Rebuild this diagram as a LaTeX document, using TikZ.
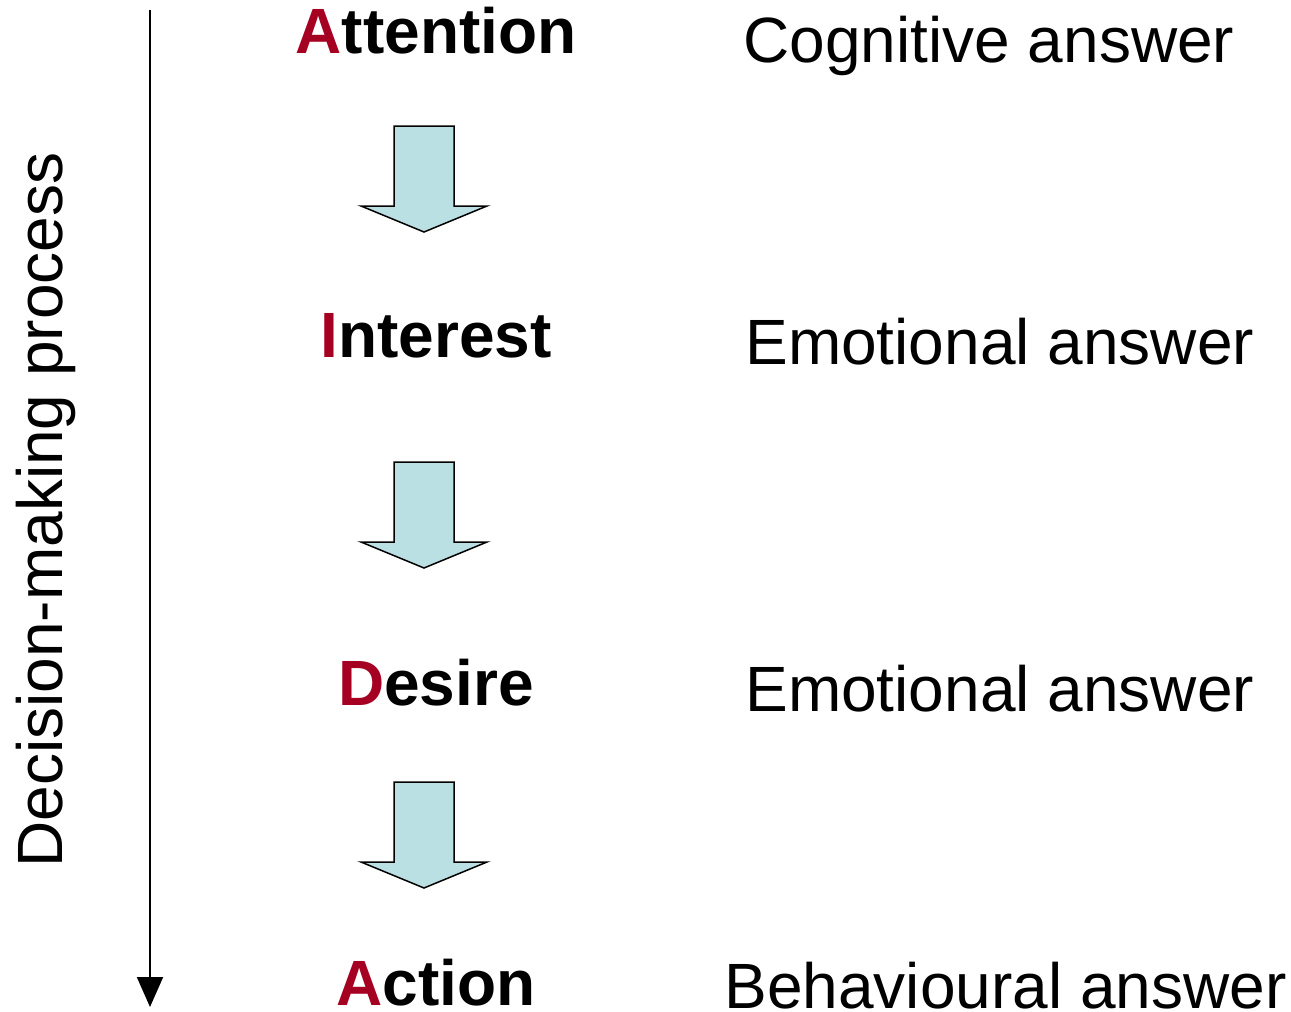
\documentclass[tikz,border=0pt]{standalone}
\usepackage{fontspec}
\setmainfont{Liberation Sans}
\usepackage{xcolor}
\usetikzlibrary{arrows.meta}
\definecolor{aidared}{HTML}{A50021}
\definecolor{arrowblue}{HTML}{BBE0E3}
\tikzset{>=latex}

\begin{document}
\begin{tikzpicture}[x=0.5pt, y=-0.5pt,
    stage/.style={anchor=base, inner sep=0pt, font=\fontsize{32}{38}\selectfont\bfseries},
    answer/.style={anchor=base west, inner sep=0pt, font=\fontsize{32}{38}\selectfont},
    blockarrow/.style={draw=black, line width=0.75pt, fill=arrowblue, line join=miter}]
    \useasboundingbox (0,0) rectangle (1291,1012);

    % Coordinates
    \coordinate (top) at (150,10);
    \coordinate (bottom) at (150,1007);
    \coordinate (A) at (436,54);
    \coordinate (I) at (436,357);
    \coordinate (D) at (436,705);
    \coordinate (C) at (436,1005);

    % Process axis
    \draw[line width=1pt, -{Triangle[width=13pt, length=15pt]}] (top) -- (bottom);
    % Text
    \node[rotate=90, anchor=base, inner sep=0pt, font=\fontsize{32}{38}\selectfont] (proc) at (62,510) {Decision-making process};

    % Stages
    \node[stage] (att) at (A) {\textcolor{aidared}{A}ttention};
    \node[stage] (int) at (I) {\textcolor{aidared}{I}nterest};
    \node[stage] (des) at (D) {\textcolor{aidared}{D}esire};
    \node[stage] (act) at (C) {\textcolor{aidared}{A}ction};

    % Answers
    \node[answer] (cogn) at (743,62) {Cognitive answer};
    \node[answer] (emoa) at (745,364) {Emotional answer};
    \node[answer] (emob) at (745,711) {Emotional answer};
    \node[answer] (behav) at (724,1008) {Behavioural answer};

    % Block arrows
    \draw[blockarrow] (394,126) -- (454,126) -- (454,206) -- (487,206) -- (424,232) -- (361,206) -- (394,206) -- cycle;
    \draw[blockarrow] (394,462) -- (454,462) -- (454,542) -- (487,542) -- (424,568) -- (361,542) -- (394,542) -- cycle;
    \draw[blockarrow] (394,782) -- (454,782) -- (454,862) -- (487,862) -- (424,888) -- (361,862) -- (394,862) -- cycle;
\end{tikzpicture}
\end{document}
